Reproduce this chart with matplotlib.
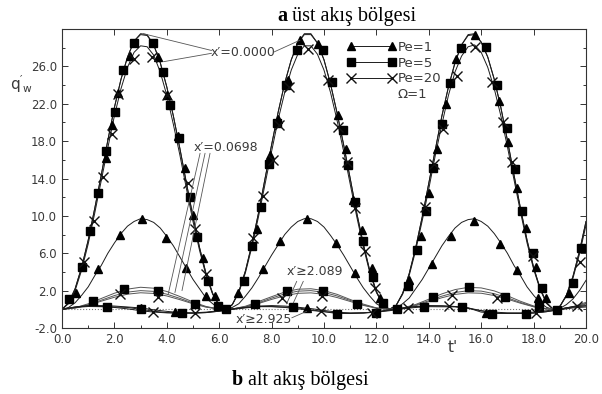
import numpy as np
import matplotlib.pyplot as plt
from matplotlib.lines import Line2D
from matplotlib.ticker import MultipleLocator, FormatStrFormatter

# time grids the curves were read on
t_fine = np.arange(0, 20.01, 0.25)
t_coarse = np.arange(0, 20.01, 0.5)

# x' = 0.0000 (upper curves), every 0.25
q_top_pe1 = [0.0, 0.7, 2.2, 4.5, 7.4, 10.8, 14.4, 18.1, 21.6, 24.6, 27.0, 28.7, 29.4, 29.3, 28.3, 26.4, 23.8, 20.7, 17.2, 13.5, 9.9, 6.6, 3.8, 1.7, 0.4,
             0.0, 0.5, 1.9, 4.1, 7.0, 10.3, 14.0, 17.6, 21.1, 24.2, 26.7, 28.5, 29.4, 29.4, 28.5, 26.7, 24.1, 21.0, 17.6, 14.0, 10.3, 7.0, 4.1, 1.9, 0.5,
             0.0, 0.4, 1.7, 3.8, 6.6, 9.9, 13.5, 17.1, 20.7, 23.8, 26.4, 28.3, 29.3, 29.4, 28.6, 27.0, 24.6, 21.6, 18.1, 14.4, 10.8, 7.4, 4.5, 2.2, 0.7,
             0.0, 0.3, 1.5, 3.5, 6.2, 9.4]
q_top_pe5 = [0.0, 0.7, 2.2, 4.5, 7.4, 10.8, 14.4, 18.1, 21.6, 24.6, 27.0, 28.7, 29.5, 29.4, 28.3, 26.4, 23.8, 20.7, 17.2, 13.5, 9.9, 6.6, 3.8, 1.7, 0.4,
             0.0, 0.5, 1.9, 4.1, 7.0, 10.3, 14.0, 17.6, 21.1, 24.2, 26.7, 28.5, 29.5, 29.5, 28.5, 26.7, 24.1, 21.0, 17.6, 14.0, 10.3, 7.0, 4.1, 1.9, 0.5,
             0.0, 0.4, 1.7, 3.8, 6.6, 9.9, 13.5, 17.1, 20.7, 23.8, 26.4, 28.3, 29.4, 29.5, 28.6, 27.0, 24.6, 21.6, 18.1, 14.4, 10.8, 7.4, 4.5, 2.2, 0.7,
             0.0, 0.3, 1.5, 3.5, 6.2, 9.4]
q_top_pe20 = [0.0, 0.6, 2.0, 4.2, 7.0, 10.3, 13.8, 17.3, 20.7, 23.6, 25.9, 27.5, 28.2, 28.1, 27.2, 25.4, 22.9, 19.8, 16.5, 12.9, 9.4, 6.3, 3.6, 1.6, 0.4,
              0.0, 0.5, 1.8, 3.9, 6.7, 9.9, 13.4, 16.9, 20.3, 23.2, 25.6, 27.3, 28.2, 28.2, 27.3, 25.6, 23.2, 20.2, 16.9, 13.4, 9.9, 6.7, 3.9, 1.8, 0.5,
              0.0, 0.4, 1.6, 3.6, 6.3, 9.5, 12.9, 16.5, 19.8, 22.9, 25.4, 27.1, 28.1, 28.3, 27.5, 25.9, 23.6, 20.7, 17.4, 13.9, 10.4, 7.1, 4.3, 2.1, 0.6,
              0.0, 0.3, 1.4, 3.3, 5.9, 9.0]

# x' = 0.0698, Pe=1 (the ~9.7 hump)
q_mid_pe1 = [0.0, 0.2, 0.7, 1.5, 2.4, 3.6, 4.7, 6.0, 7.1, 8.1, 8.9, 9.4, 9.7, 9.6, 9.3, 8.7, 7.8, 6.8, 5.6, 4.4, 3.2, 2.2, 1.2, 0.6, 0.1,
             0.0, 0.2, 0.6, 1.4, 2.3, 3.4, 4.6, 5.8, 6.9, 8.0, 8.8, 9.4, 9.7, 9.7, 9.4, 8.8, 7.9, 6.9, 5.8, 4.6, 3.4, 2.3, 1.4, 0.6, 0.2,
             0.0, 0.1, 0.6, 1.2, 2.2, 3.2, 4.4, 5.6, 6.8, 7.8, 8.7, 9.3, 9.6, 9.7, 9.4, 8.9, 8.1, 7.1, 6.0, 4.7, 3.6, 2.4, 1.5, 0.7, 0.2,
             0.0, 0.1, 0.5, 1.1, 2.0, 3.1]

# small humps (~2), read every 0.5
q_low_pe5 = [0.0, 0.17, 0.59, 1.16, 1.72, 2.16, 2.36, 2.26, 1.91, 1.37, 0.79, 0.3, 0.03,
             0.04, 0.33, 0.83, 1.35, 1.85, 2.15, 2.2, 2.0, 1.6, 1.05, 0.56, 0.15, 0.0,
             0.14, 0.52, 1.08, 1.65, 2.11, 2.35, 2.29, 1.97, 1.45, 0.86, 0.36, 0.05, 0.02, 0.28, 0.75]
q_low_mid = [0.0, 0.15, 0.5, 0.98, 1.47, 1.84, 2.0, 1.92, 1.62, 1.17, 0.67, 0.26, 0.03,
             0.04, 0.28, 0.7, 1.2, 1.65, 1.94, 2.0, 1.81, 1.43, 0.95, 0.47, 0.13, 0.0,
             0.11, 0.45, 0.92, 1.41, 1.8, 1.99, 1.95, 1.67, 1.23, 0.73, 0.3, 0.04, 0.02, 0.24, 0.64]
q_low_pe20 = [0.0, 0.13, 0.44, 0.87, 1.29, 1.62, 1.77, 1.7, 1.43, 1.03, 0.59, 0.23, 0.02,
              0.03, 0.25, 0.62, 1.06, 1.45, 1.71, 1.76, 1.6, 1.26, 0.84, 0.42, 0.12, 0.0,
              0.1, 0.39, 0.81, 1.24, 1.59, 1.76, 1.72, 1.47, 1.09, 0.65, 0.27, 0.04, 0.02, 0.21, 0.56]

# far downstream curves, close to zero
q_far_pe1 = [0.0, 0.25, 0.4, 0.4, 0.35, 0.25, 0.15, -0.05, -0.22, -0.35, -0.4, -0.35, -0.2,
             0.0, 0.2, 0.35, 0.4, 0.35, 0.22, 0.08, -0.12, -0.3, -0.4, -0.38, -0.25, -0.05,
             0.15, 0.3, 0.4, 0.38, 0.3, 0.15, -0.3, -0.42, -0.42, -0.4, -0.3, -0.15, 0.05, 0.25, 0.38]
q_far_pe5 = [0.0, 0.2, 0.3, 0.28, 0.25, 0.2, 0.0, -0.2, -0.35, -0.4, -0.42, -0.35, -0.2,
             0.0, 0.15, 0.28, 0.28, 0.24, 0.15, -0.05, -0.25, -0.45, -0.45, -0.4, -0.3, -0.15,
             0.05, 0.2, 0.28, 0.27, 0.26, 0.15, -0.15, -0.42, -0.45, -0.45, -0.4, -0.25, -0.05, 0.15, 0.25]
q_far_pe20 = [0.0, 0.25, 0.35, 0.3, 0.2, 0.05, -0.15, -0.3, -0.38, -0.4, -0.38, -0.3, -0.15,
              0.05, 0.2, 0.3, 0.3, 0.2, 0.05, -0.12, -0.25, -0.38, -0.4, -0.38, -0.3, -0.1,
              0.1, 0.28, 0.35, 0.35, 0.3, 0.1, -0.15, -0.3, -0.38, -0.4, -0.4, -0.25, 0.0, 0.3, 0.38]

# marker positions (t, q)
tri_t = [0.52, 1.67, 1.92, 2.15, 2.6, 3.65, 4.0, 4.41, 4.69, 4.99, 5.39, 5.84,
         6.73, 7.43, 7.94, 8.26, 8.64, 9.08, 9.79, 10.55, 10.84, 11.12, 11.44, 11.82, 12.14,
         13.26, 13.69, 14.02, 14.32, 14.66, 15.04, 15.76, 16.69, 17.04, 17.38, 17.71, 18.09, 18.18, 19.36,
         1.39, 2.21, 3.05, 3.98, 4.73, 5.48, 7.66, 8.32, 9.36, 10.45, 11.18, 14.11, 14.84, 15.73, 16.72, 17.35, 18.47,
         3.02, 4.31, 9.34, 16.2]
tri_q = [1.75, 16.2, 19.7, 23.1, 27.1, 27.0, 22.9, 18.6, 15.1, 10.1, 5.5, 1.4,
         1.75, 8.6, 16.5, 20.4, 24.5, 28.8, 28.4, 20.8, 17.2, 11.7, 8.5, 4.4, 1.2,
         3.1, 7.8, 12.4, 17.2, 22.0, 26.8, 29.4, 22.3, 17.9, 13.0, 8.7, 4.5, 1.2, 1.75,
         4.3, 7.9, 9.7, 7.6, 4.4, 1.4, 4.3, 7.3, 9.65, 7.1, 3.9, 4.8, 7.8, 9.5, 7.0, 4.2, 1.2,
         0.15, -0.3, 0.15, -0.4]

sq_t = [0.27, 0.75, 1.08, 1.36, 1.67, 2.02, 2.34, 2.76, 3.46, 3.84, 4.12, 4.47, 4.87, 5.16, 5.57, 5.95,
        6.95, 7.24, 7.58, 7.91, 8.19, 8.55, 8.96, 9.95, 10.29, 10.71, 10.93, 11.18, 11.5, 11.88, 12.26,
        13.22, 13.54, 13.89, 14.15, 14.49, 14.81, 15.22, 16.18, 16.59, 16.97, 17.29, 17.55, 17.97, 18.31,
        19.52, 19.81,
        1.2, 2.38, 3.65, 5.08, 7.37, 8.58, 9.97, 11.25, 14.17, 15.55, 16.9, 18.2,
        1.7, 3.0, 4.57, 6.25, 8.83, 10.48, 12.0, 12.8, 13.82, 15.26, 16.4, 17.71, 18.88]
sq_q = [1.1, 4.5, 8.4, 12.4, 16.9, 21.1, 25.6, 28.5, 28.5, 25.4, 21.9, 18.3, 12.0, 7.7, 3.0, 0.4,
        3.0, 6.8, 11.0, 15.6, 19.9, 24.0, 27.7, 27.8, 24.3, 19.2, 15.4, 11.5, 7.3, 3.5, 0.7,
        2.5, 6.3, 10.5, 15.1, 19.8, 24.2, 28.0, 28.1, 24.0, 19.4, 15.0, 10.5, 6.0, 2.3,
        2.8, 6.6,
        0.86, 2.2, 2.0, 0.55, 0.55, 2.0, 2.0, 0.6, 1.33, 2.35, 1.33, 0.3,
        0.26, 0.0, -0.38, 0.0, 0.22, -0.5, -0.35, 0.0, 0.26, 0.26, -0.45, -0.45, -0.05]

x_t = [0.85, 1.23, 1.58, 1.9, 2.15, 2.75, 3.45, 4.0, 4.8, 5.08, 5.48,
       7.3, 7.68, 8.04, 8.29, 8.68, 9.4, 10.14, 10.55, 10.87, 11.18, 11.56, 11.95,
       13.85, 14.2, 14.55, 15.06, 15.76, 16.4, 16.84, 17.16, 17.99, 19.77,
       2.21, 3.66, 8.38, 9.91, 14.87, 16.59,
       3.49, 5.08, 9.9, 11.82, 13.2, 14.78, 18.1, 19.64]
x_q = [5.1, 9.4, 14.2, 18.8, 23.0, 26.8, 27.0, 22.9, 13.5, 8.6, 3.8,
       7.6, 12.1, 16.0, 19.7, 23.8, 27.9, 24.5, 19.5, 15.8, 10.8, 6.2, 2.3,
       11.0, 15.5, 19.3, 25.0, 28.1, 24.3, 20.1, 15.8, 5.7, 5.1,
       1.6, 1.33, 1.22, 1.4, 1.57, 1.22,
       -0.3, -0.38, -0.2, -0.4, 0.15, 0.35, -0.4, 0.33]

line_col = '#1c1c1c'
text_col = '#3a3a3a'

fig = plt.figure(figsize=(6.02, 3.94), dpi=100)
ax = fig.add_axes([62 / 602, 66 / 394, 524 / 602, 299 / 394])

ax.axhline(0, ls=':', color='#777777', lw=0.8, zorder=1)

for q in [q_top_pe1, q_top_pe5, q_top_pe20, q_mid_pe1]:
    ax.plot(t_fine, q, color=line_col, lw=0.7, zorder=2)
for q in [q_low_pe5, q_low_mid, q_low_pe20]:
    ax.plot(t_coarse, q, color='#555555', lw=0.7, zorder=2)
for q in [q_far_pe1, q_far_pe5, q_far_pe20]:
    ax.plot(t_coarse, q, color=line_col, lw=0.7, zorder=2)

ax.plot(tri_t, tri_q, ls='none', marker='^', ms=5.5, color='black', zorder=3)
ax.plot(sq_t, sq_q, ls='none', marker='s', ms=5.3, color='black', zorder=3)
ax.plot(x_t, x_q, ls='none', marker='x', ms=6.5, mew=1.0, color='#111111', zorder=3)

ax.set_xlim(0, 20)
ax.set_ylim(-2, 30)
ax.xaxis.set_major_locator(MultipleLocator(2))
ax.xaxis.set_minor_locator(MultipleLocator(1))
ax.set_yticks(np.arange(-2, 27, 4))
ax.yaxis.set_minor_locator(MultipleLocator(2))
ax.xaxis.set_major_formatter(FormatStrFormatter('%.1f'))
ax.yaxis.set_major_formatter(FormatStrFormatter('%.1f'))
ax.tick_params(which='both', direction='in', top=True, right=True,
               labelsize=8.5, labelcolor=text_col, color='#333333', width=0.7)
ax.tick_params(which='major', length=4)
ax.tick_params(which='minor', length=2.5, top=False)
for s in ax.spines.values():
    s.set_linewidth(0.8)
    s.set_color('#333333')

# annotations
ann = dict(arrowstyle='-', color='#555555', lw=0.6, shrinkA=0, shrinkB=0)
ax.text(6.91, 27.5, "x′=0.0000", fontsize=9, color=text_col, ha='center', va='center')
ax.annotate('', xy=(3.10, 29.5), xytext=(5.71, 27.7), arrowprops=ann)
ax.annotate('', xy=(3.87, 26.5), xytext=(5.71, 27.4), arrowprops=ann)
ax.annotate('', xy=(9.08, 28.8), xytext=(8.06, 27.5), arrowprops=ann)

ax.text(6.26, 17.36, "x′=0.0698", fontsize=9, color=text_col, ha='center', va='center')
ax.annotate('', xy=(4.05, 1.58), xytext=(5.27, 16.7), arrowprops=ann)
ax.annotate('', xy=(4.31, 1.79), xytext=(5.46, 16.7), arrowprops=ann)
ax.annotate('', xy=(4.58, 2.0), xytext=(5.65, 16.7), arrowprops=ann)

ax.text(9.66, 4.03, "x′≥2.089", fontsize=9, color=text_col, ha='center', va='center')
ax.annotate('', xy=(8.57, 0.58), xytext=(8.96, 3.0), arrowprops=ann)
ax.annotate('', xy=(8.83, 0.69), xytext=(9.21, 3.0), arrowprops=ann)

ax.text(7.69, -1.04, "x′≥2.925", fontsize=9, color=text_col, ha='center', va='center')
ax.annotate('', xy=(9.34, -0.21), xytext=(8.77, -0.91), arrowprops=ann)

# legend
handles = [Line2D([], [], color=line_col, lw=0.7, marker='^', ms=5.5, mfc='black', mec='black'),
           Line2D([], [], color=line_col, lw=0.7, marker='s', ms=5.3, mfc='black', mec='black'),
           Line2D([], [], color=line_col, lw=0.7, marker='x', ms=6.5, mew=1.0, mec='#111111'),
           Line2D([], [], ls='none')]
ax.legend(handles, ['Pe=1', 'Pe=5', 'Pe=20', 'Ω=1'], loc='upper left',
          bbox_to_anchor=((347 - 62) / 524, (328 - 41) / 299), frameon=False,
          fontsize=9.5, numpoints=2, handlelength=3.7, handletextpad=0.15,
          labelspacing=0.2, borderpad=0, borderaxespad=0, labelcolor=text_col)

fig.text(22 / 602, 1 - 84 / 394, r"$\mathregular{q'_w}$", fontsize=11, color=text_col,
         ha='center', va='center')
fig.text(453 / 602, 1 - 347 / 394, "t'", fontsize=11, color=text_col, ha='center', va='center')

serif = 'Liberation Serif'
fig.text(277 / 602, 1 - 21 / 394, 'a', family=serif, fontweight='bold', fontsize=14.5, va='baseline')
fig.text(292 / 602, 1 - 21 / 394, 'üst akış bölgesi', family=serif, fontsize=14.5, va='baseline')
fig.text(232 / 602, 1 - 385 / 394, 'b', family=serif, fontweight='bold', fontsize=14.5, va='baseline')
fig.text(248 / 602, 1 - 385 / 394, 'alt akış bölgesi', family=serif, fontsize=14.5, va='baseline')

fig.savefig('out.png', dpi=100)
